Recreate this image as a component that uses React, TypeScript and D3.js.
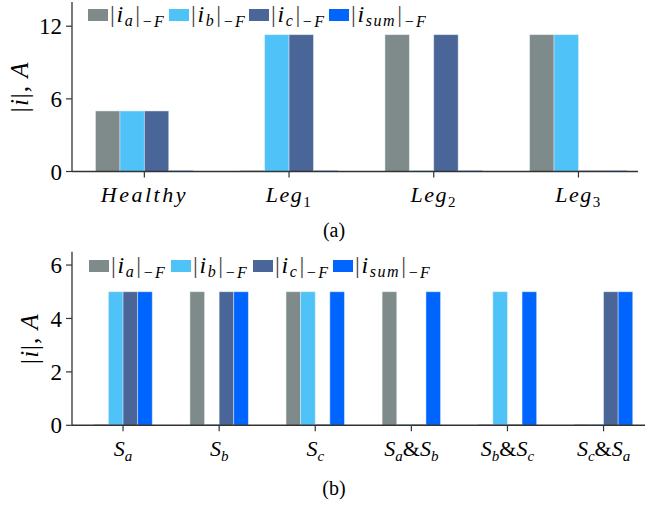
import React from "react";
import * as d3 from "d3";

// ---------- data ----------
const seriesKeys = ["a", "b", "c", "sum"];
const seriesColors = ["#7f8b8b", "#4fc3f7", "#4a6598", "#0064ff"];

const topCategories = ["Healthy", "Leg1", "Leg2", "Leg3"];
const topIa = [5, 0, 11.3, 11.3];
const topIb = [5, 11.3, 0, 11.3];
const topIc = [5, 11.3, 11.3, 0];
const topIsum = [0, 0, 0, 0];
const topTicks = [0, 6, 12];

const botCategories = ["Sa", "Sb", "Sc", "SaSb", "SbSc", "ScSa"];
const botIa = [0, 5, 5, 5, 0, 0];
const botIb = [5, 0, 5, 0, 5, 0];
const botIc = [5, 5, 0, 0, 0, 5];
const botIsum = [5, 5, 5, 5, 5, 5];
const botTicks = [0, 2, 4, 6];

const SERIF = "Liberation Serif";

type Panel = {
  cats: string[];
  series: number[][];
  ticks: number[];
  yMax: number;
  yTop: number;
  yBottom: number;
  xLeft: number;
  bandStart: number;
  step: number;
  axisEnd: number;
  barW: number;
  legendX: number[];
  legendY: number;
  labelX: number;
  caption: string;
  captionY: number;
  tickLabelY: number;
};

function CatLabel({ name, x, y }: { name: string; x: number; y: number }) {
  const big = 22;
  const sub = 15;
  if (name === "Healthy") {
    return (
      <text x={x} y={y} textAnchor="middle" fontSize={big} fontFamily={SERIF} fontStyle="italic" letterSpacing={2.5}>
        Healthy
      </text>
    );
  }
  if (name.startsWith("Leg")) {
    return (
      <text x={x} y={y} textAnchor="middle" fontSize={big} fontFamily={SERIF} letterSpacing={1.5}>
        <tspan fontStyle="italic">Leg</tspan>
        <tspan fontSize={sub} dy={5}>{name.slice(3)}</tspan>
      </text>
    );
  }
  const parts = name.match(/S[a-c]/g) || [];
  return (
    <text x={x} y={y} textAnchor="middle" fontSize={big} fontFamily={SERIF}>
      {parts.map((p, i) => (
        <React.Fragment key={i}>
          {i > 0 && <tspan dy={-5}>&amp;</tspan>}
          <tspan fontStyle="italic">S</tspan>
          <tspan fontStyle="italic" fontSize={sub} dy={5}>{p[1]}</tspan>
        </React.Fragment>
      ))}
    </text>
  );
}

function LegendLabel({ k, x, y }: { k: string; x: number; y: number }) {
  return (
    <text x={x} y={y} fontSize={24} fontFamily={SERIF} letterSpacing={1.6}>
      <tspan fill="#444">|</tspan>
      <tspan fontStyle="italic">i</tspan>
      <tspan fontStyle="italic" fontSize={16} dy={4}>{k}</tspan>
      <tspan fill="#444" dy={-4} dx={1}>|</tspan>
      <tspan fontStyle="italic" fontSize={16} dy={5}>−F</tspan>
    </text>
  );
}

function BarPanel({ p }: { p: Panel }) {
  const x = d3
    .scaleBand<string>()
    .domain(p.cats)
    .range([p.bandStart, p.bandStart + p.step * p.cats.length])
    .padding(0);
  const inner = d3
    .scaleBand<string>()
    .domain(seriesKeys)
    .range([-2 * p.barW, 2 * p.barW]);
  const y = d3.scaleLinear().domain([0, p.yMax]).range([p.yBottom, p.yTop]);
  const axisColor = "#333";
  return (
    <g>
      {p.cats.map((c, ci) => {
        const cx = (x(c) as number) + x.bandwidth() / 2;
        return seriesKeys.map((k, si) => {
          const v = p.series[si][ci];
          const bx = cx + (inner(k) as number);
          const by = y(v);
          return (
            <rect
              key={c + k}
              x={bx}
              y={by - (v === 0 ? 1 : 0)}
              width={inner.bandwidth()}
              height={Math.max(y(0) - by, 1)}
              fill={seriesColors[si]}
              stroke="#e8eef2"
              strokeOpacity={0.6}
              strokeWidth={0.8}
            />
          );
        });
      })}
      <line x1={p.xLeft} x2={p.xLeft} y1={p.yTop} y2={p.yBottom} stroke={axisColor} strokeWidth={1.3} />
      {p.ticks.map((t) => (
        <g key={t}>
          <line x1={p.xLeft - 6} x2={p.xLeft} y1={y(t)} y2={y(t)} stroke={axisColor} strokeWidth={1.2} />
          <text x={p.xLeft - 10} y={y(t)} dy="0.35em" textAnchor="end" fontSize={23} fontFamily={SERIF}>
            {t}
          </text>
        </g>
      ))}
      <line x1={p.xLeft} x2={p.axisEnd} y1={p.yBottom} y2={p.yBottom} stroke={axisColor} strokeWidth={1.5} />
      {p.cats.map((c) => {
        const cx = (x(c) as number) + x.bandwidth() / 2;
        return (
          <g key={c}>
            <line x1={cx} x2={cx} y1={p.yBottom} y2={p.yBottom + 6} stroke={axisColor} strokeWidth={1.2} />
            <CatLabel name={c} x={cx} y={p.tickLabelY} />
          </g>
        );
      })}
      <text
        transform={`translate(${p.labelX},${(p.yTop + p.yBottom) / 2}) rotate(-90)`}
        textAnchor="middle"
        fontSize={25}
        fontFamily={SERIF}
        letterSpacing={1}
      >
        <tspan>|</tspan>
        <tspan fontStyle="italic">i</tspan>
        <tspan>|, </tspan>
        <tspan fontStyle="italic">A</tspan>
      </text>
      {seriesKeys.map((k, i) => (
        <g key={k}>
          <rect x={p.legendX[i]} y={p.legendY - 6} width={20} height={12} fill={seriesColors[i]} />
          <LegendLabel k={k} x={p.legendX[i] + 22} y={p.legendY + 7} />
        </g>
      ))}
      <text x={334} y={p.captionY} textAnchor="middle" fontSize={20} fontFamily={SERIF}>
        {p.caption}
      </text>
    </g>
  );
}

const topPanel: Panel = {
  cats: topCategories,
  series: [topIa, topIb, topIc, topIsum],
  ticks: topTicks,
  yMax: 14,
  yTop: 2,
  yBottom: 171.5,
  xLeft: 72,
  bandStart: 72,
  step: 144.7,
  axisEnd: 638,
  barW: 24.4,
  legendX: [88, 169, 249, 329],
  legendY: 15,
  labelX: 28,
  caption: "(a)",
  captionY: 237,
  tickLabelY: 202,
};

const botPanel: Panel = {
  cats: botCategories,
  series: [botIa, botIb, botIc, botIsum],
  ticks: botTicks,
  yMax: 6.5,
  yTop: 251.7,
  yBottom: 425.3,
  xLeft: 72,
  bandStart: 75,
  step: 96.1,
  axisEnd: 645,
  barW: 14.6,
  legendX: [89, 171, 253, 333],
  legendY: 266,
  labelX: 38,
  caption: "(b)",
  captionY: 495,
  tickLabelY: 456,
};

export default function App() {
  return (
    <svg width={646} height={505} style={{ position: "absolute", left: 0, top: 0, background: "#fff" }}>
      <BarPanel p={topPanel} />
      <BarPanel p={botPanel} />
    </svg>
  );
}
